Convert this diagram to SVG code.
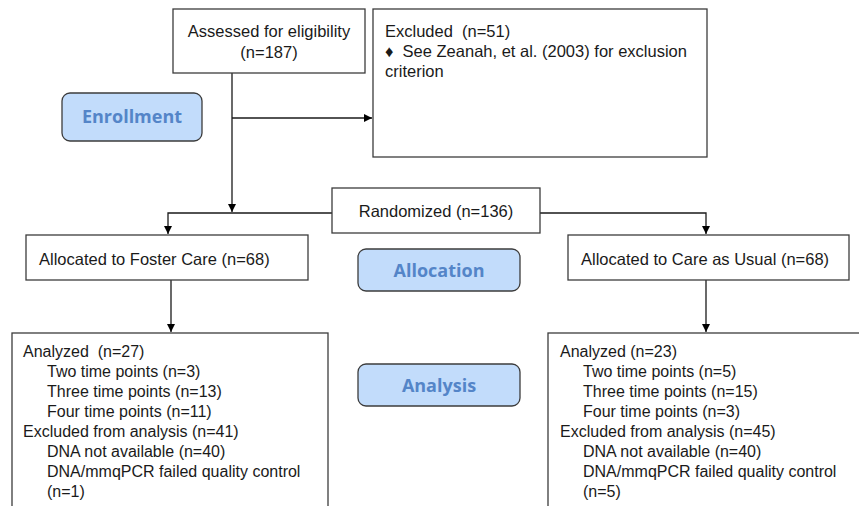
<svg xmlns="http://www.w3.org/2000/svg" width="859" height="506" viewBox="0 0 859 506">
<style>
.box{fill:#fff;stroke:#3c3c3c;stroke-width:1.3}
.lab{fill:#c2dcfb;stroke:#3c3c3c;stroke-width:1.3}
.t{font-family:"Liberation Sans",Arial,sans-serif;font-size:16.5px;fill:#1a1a1a}
.s{font-family:"Liberation Sans",Arial,sans-serif;font-size:16px;fill:#1a1a1a}
.lt{font-family:"Open Sans","Noto Sans",sans-serif;font-weight:bold;font-size:18px;fill:#5485c8;text-anchor:middle}
.c{fill:none;stroke:#1a1a1a;stroke-width:1.3}
</style>
<defs>
<marker id="ah" viewBox="0 0 10 10" refX="10" refY="5" markerWidth="8" markerHeight="8" markerUnits="userSpaceOnUse" orient="auto">
<path d="M0,0 L10,5 L0,10 z" fill="#000"/>
</marker>
</defs>
<g id="connectors">
<path class="c" d="M232,73 V212" marker-end="url(#ah)"/>
<path class="c" d="M232,118 H372" marker-end="url(#ah)"/>
<path class="c" d="M332,213 H168 V234" marker-end="url(#ah)"/>
<path class="c" d="M540,213 H706 V234" marker-end="url(#ah)"/>
<path class="c" d="M171,280 V332" marker-end="url(#ah)"/>
<path class="c" d="M706,280 V332" marker-end="url(#ah)"/>
</g>
<g id="assessed">
<rect class="box" x="173" y="9" width="192" height="64"/>
<text class="t" x="269" y="37" text-anchor="middle">Assessed for eligibility</text>
<text class="t" x="269" y="58" text-anchor="middle">(n=187)</text>
</g>
<g id="excluded">
<rect class="box" x="373" y="9" width="334" height="148"/>
<text class="t" x="385" y="37" xml:space="preserve">Excluded  (n=51)</text>
<text class="t" x="385" y="57" xml:space="preserve">♦  See Zeanah, et al. (2003) for exclusion</text>
<text class="t" x="385" y="77">criterion</text>
</g>
<g id="enrollment">
<rect class="lab" x="62" y="93" width="140" height="48" rx="8"/>
<text class="lt" x="132" y="123">Enrollment</text>
</g>
<g id="randomized">
<rect class="box" x="332" y="188" width="208" height="45"/>
<text class="t" x="436" y="217" text-anchor="middle">Randomized (n=136)</text>
</g>
<g id="foster">
<rect class="box" x="26" y="235" width="282" height="45"/>
<text class="t" x="39" y="265">Allocated to Foster Care (n=68)</text>
</g>
<g id="allocation">
<rect class="lab" x="358" y="249" width="162" height="42" rx="8"/>
<text class="lt" x="439" y="277">Allocation</text>
</g>
<g id="usual">
<rect class="box" x="568" y="235" width="281" height="45"/>
<text class="t" x="581" y="265">Allocated to Care as Usual (n=68)</text>
</g>
<g id="analysis-left">
<rect class="box" x="12" y="333" width="316" height="190"/>
<text class="s" x="23" y="357" xml:space="preserve">Analyzed  (n=27)</text>
<text class="s" x="47" y="377">Two time points (n=3)</text>
<text class="s" x="47" y="397">Three time points (n=13)</text>
<text class="s" x="47" y="417">Four time points (n=11)</text>
<text class="s" x="23" y="437">Excluded from analysis (n=41)</text>
<text class="s" x="47" y="457">DNA not available (n=40)</text>
<text class="s" x="47" y="477">DNA/mmqPCR failed quality control</text>
<text class="s" x="47" y="497">(n=1)</text>
</g>
<g id="analysis">
<rect class="lab" x="358" y="364" width="162" height="42" rx="8"/>
<text class="lt" x="439" y="392">Analysis</text>
</g>
<g id="analysis-right">
<rect class="box" x="548" y="333" width="330" height="190"/>
<text class="s" x="560" y="357">Analyzed (n=23)</text>
<text class="s" x="583" y="377">Two time points (n=5)</text>
<text class="s" x="583" y="397">Three time points (n=15)</text>
<text class="s" x="583" y="417">Four time points (n=3)</text>
<text class="s" x="560" y="437">Excluded from analysis (n=45)</text>
<text class="s" x="583" y="457">DNA not available (n=40)</text>
<text class="s" x="583" y="477">DNA/mmqPCR failed quality control</text>
<text class="s" x="583" y="497">(n=5)</text>
</g>
</svg>
